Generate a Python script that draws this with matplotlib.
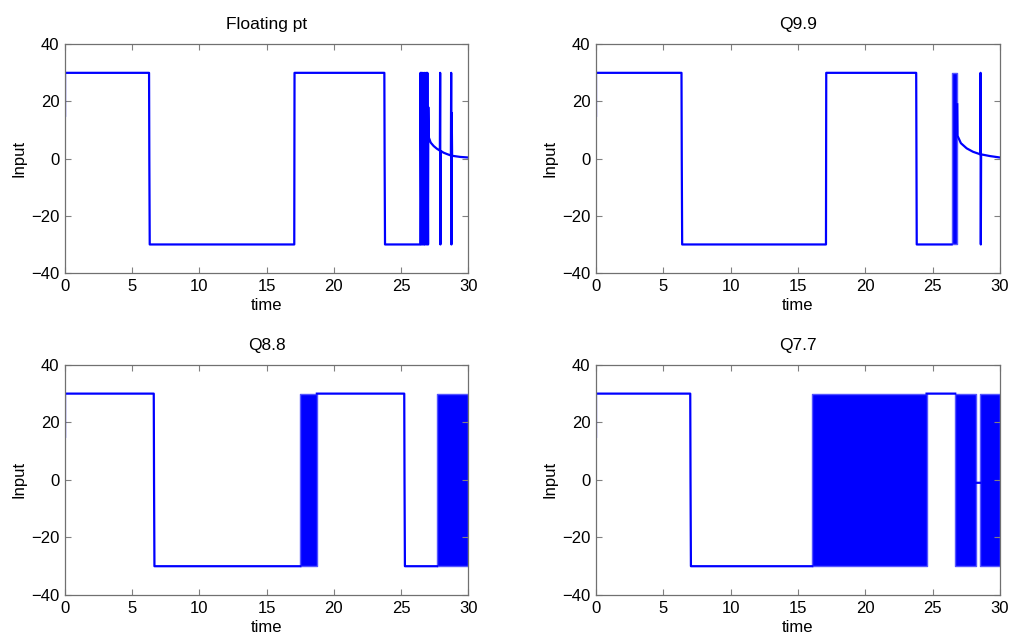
import numpy as np
import matplotlib
matplotlib.use("Agg")
import matplotlib.pyplot as plt

plt.rcParams['font.family'] = ['Liberation Sans', 'DejaVu Sans']
plt.rcParams['font.size'] = 12

titles = ["Floating pt", "Q9.9", "Q8.8", "Q7.7"]
xticks = [0, 5, 10, 15, 20, 25, 30]
yticks = [-40, -20, 0, 20, 40]

# Floating pt: switching input, chatter then decaying tail with two spikes
t_fp = [0, 0, 6.25, 6.27, 6.3, 17.05, 17.07, 23.75, 23.77, 23.8, 26.42,
        26.44, 26.5, 26.52, 26.6, 26.62, 26.7, 26.76, 26.78, 26.87, 26.9,
        26.95, 27.0, 27.02, 27.05, 27.2, 27.42, 27.65, 27.88, 27.9, 27.92, 27.94,
        28.15, 28.41, 28.7, 28.72, 28.74, 28.76, 28.79, 29.1, 29.4, 30.0]
u_fp = [15, 30, 30, 0, -30, -30, 30, 30, 0, -30, -30,
        30, -30, 30, -30, 30, -30, 30, -30, 30, -30,
        30, -30, 18, 7.5, 5.6, 4.4, 3.5, 2.8, 30, -30, 2.7,
        2.1, 1.6, 1.1, 30, -30, 16, 1.0, 0.8, 0.6, 0.4]
band_fp = []

# Q9.9
t_q99 = [0, 0, 6.35, 6.37, 6.4, 17.08, 17.1, 23.78, 23.8, 23.82, 26.41,
         np.nan, 26.83, 26.85, 27.1, 27.53, 28.0, 28.55, 28.56, 28.58, 28.6,
         29.26, 30.0]
u_q99 = [15, 30, 30, 0, -30, -30, 30, 30, 0, -30, -30,
         np.nan, 19, 8.0, 5.4, 3.6, 2.4, 1.5, 30, -30, 1.5,
         0.9, 0.4]
band_q99 = [(26.41, 26.82)]

# Q8.8
t_q88 = [0, 0, 6.6, 6.62, 6.65, 17.5, np.nan, 18.73, 25.23, 25.25, 25.28, 27.67]
u_q88 = [15, 30, 30, 0, -30, -30, np.nan, 30, 30, 0, -30, -30]
band_q88 = [(17.5, 18.73), (27.67, 30.0)]

# Q7.7
t_q77 = [0, 0, 7.0, 7.02, 7.05, 16.06, np.nan, 24.55, 26.68, np.nan, 28.24, 28.52]
u_q77 = [15, 30, 30, 0, -30, -30, np.nan, 30, 30, np.nan, -1, -1]
band_q77 = [(16.06, 24.55), (26.68, 28.24), (28.52, 30.0)]

series = [(t_fp, u_fp, band_fp), (t_q99, u_q99, band_q99),
          (t_q88, u_q88, band_q88), (t_q77, u_q77, band_q77)]

fig = plt.figure(figsize=(10.16, 6.41), dpi=100)
positions = [[0.064, 0.574, 0.397, 0.357], [0.5866, 0.574, 0.3976, 0.357],
             [0.064, 0.0718, 0.397, 0.359], [0.5866, 0.0718, 0.3976, 0.359]]

for k in range(4):
    ax = fig.add_axes(positions[k])
    t, u, bands = series[k]
    ax.plot(t, u, color='#0000ff', lw=1.6)
    for (a, b) in bands:
        ax.fill_between([a, b], -30, 30, color='#0000ff', lw=1.0,
                        edgecolor='#5555ff')
    ax.set_xlim(0, 30)
    ax.set_ylim(-40, 40)
    ax.set_xticks(xticks)
    ax.set_yticks(yticks)
    ax.tick_params(direction='in', length=4, width=0.8, color='#808080',
                   top=True, right=True, labelsize=12, pad=4)
    for s in ax.spines.values():
        s.set_color('#707070')
        s.set_linewidth(0.9)
    ax.set_title(titles[k], fontsize=12.5, pad=11)
    ax.set_xlabel('time', fontsize=12, labelpad=3)
    ax.set_ylabel('Input', fontsize=12, labelpad=3)

fig.savefig('out.png', dpi=100)
